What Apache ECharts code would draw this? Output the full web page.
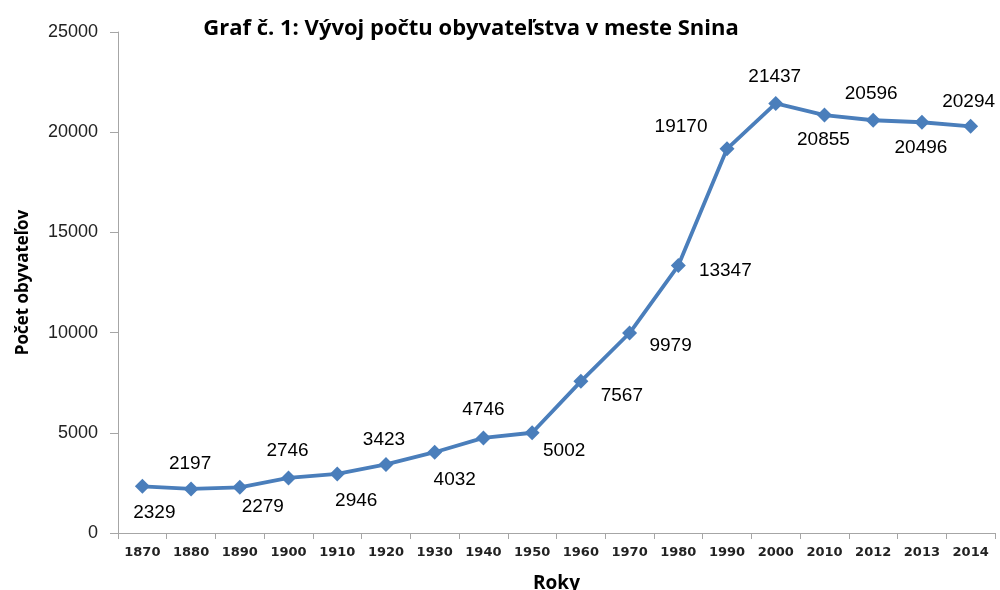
<!DOCTYPE html>
<html><head><meta charset="utf-8">
<script src="https://cdn.jsdelivr.net/npm/echarts@6/dist/echarts.min.js"></script>
<style>html,body{margin:0;padding:0;background:#fff}#c{width:1000px;height:590px}</style>
</head><body><div id="c"></div>
<script>
const categories = ['1870','1880','1890','1900','1910','1920','1930','1940','1950','1960','1970','1980','1990','2000','2010','2012','2013','2014'];
const population = [2329,2197,2279,2746,2946,3423,4032,4746,5002,7567,9979,13347,19170,21437,20855,20596,20496,20294];
const yTicks = [0,5000,10000,15000,20000,25000];
const titleText = 'Graf č. 1: Vývoj počtu obyvateľstva v meste Snina';
const xName = 'Roky';
const yName = 'Počet obyvateľov';
// label offsets (style only)
const labelOffsets = [[12,26],[-1,-25],[23,19],[-1,-27],[19,27],[-2,-25],[20,28],[0,-28],[32,18],[41,14],[41,13],[47,5],[-46,-22],[-1,-27],[-1,25],[-2,-26],[-1,26],[-2,-25]];

const chart = echarts.init(document.getElementById('c'));
chart.setOption({
  animation:false,
  title:{text:titleText,left:466,textAlign:'center',top:13,textStyle:{fontFamily:'Open Sans',fontWeight:'bold',fontSize:22,color:'#000'}},
  grid:{left:118,right:5,top:32,bottom:57,containLabel:false,outerBoundsMode:'none'},
  xAxis:{type:'category',data:categories,boundaryGap:true,
    name:xName,nameLocation:'middle',nameGap:41,
    nameTextStyle:{fontFamily:'Open Sans',fontWeight:'bold',fontSize:19,color:'#000'},
    axisLine:{lineStyle:{color:'#a6a6a6',width:1}},
    axisTick:{show:true,alignWithLabel:false,length:6,lineStyle:{color:'#a6a6a6'}},
    axisLabel:{margin:13,fontFamily:'DejaVu Sans',fontWeight:'bold',fontSize:13,color:'#222'},
    splitLine:{show:false}},
  yAxis:{type:'value',min:yTicks[0],max:yTicks[yTicks.length-1],interval:yTicks[1]-yTicks[0],
    name:yName,nameLocation:'middle',nameGap:86,nameRotate:90,
    nameTextStyle:{fontFamily:'Open Sans',fontWeight:'bold',fontSize:17,color:'#000'},
    axisLine:{show:true,lineStyle:{color:'#a6a6a6',width:1}},
    axisTick:{show:true,length:8,lineStyle:{color:'#a6a6a6'}},
    axisLabel:{margin:20,fontFamily:'Liberation Sans',fontSize:18,color:'#222',formatter:v=>String(v)},
    splitLine:{show:false}},
  series:[{type:'line',
    data:population.map((v,i)=>({value:v,label:{offset:labelOffsets[i]}})),
    symbol:'diamond',symbolSize:15,
    lineStyle:{color:'#4a7ebb',width:3.8},
    itemStyle:{color:'#4a7ebb'},
    label:{show:true,position:'inside',fontFamily:'Liberation Sans',fontSize:19,color:'#000'}
  }]
});
</script></body></html>
